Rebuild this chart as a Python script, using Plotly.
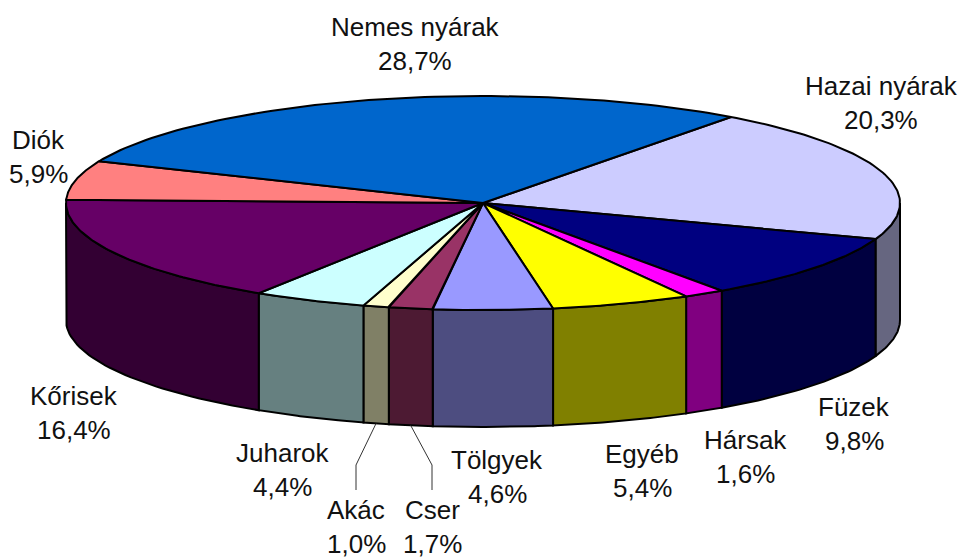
import numpy as np
import plotly.graph_objects as go

names = ["Hazai nyárak", "Füzek", "Hársak", "Egyéb", "Tölgyek", "Cser", "Akác", "Juharok", "Kőrisek", "Diók", "Nemes nyárak"]
shares = [20.3, 9.8, 1.6, 5.4, 4.6, 1.7, 1.0, 4.4, 16.4, 5.9, 28.7]
top_colors = ["#CCCCFF", "#000080", "#FF00FF", "#FFFF00", "#9999FF", "#993366", "#FFFFCC", "#CCFFFF", "#660066", "#FF8080", "#0066CC"]
side_colors = ["#666680", "#000040", "#800080", "#808000", "#4D4D80", "#4D1A33", "#808066", "#668080", "#330033", "#804040", "#003366"]
label_x = [881, 854, 745, 642, 497, 432, 356, 282, 74, 38, 415]
label_y = [86, 407, 440, 454, 460, 510, 510, 453, 396, 140, 27]

CX, CY, RX, RY, DEPTH = 483, 203, 417, 107, 117
START = 36.5
LINE = dict(color="black", width=2)
FONT = dict(family="Liberation Sans, Arial, sans-serif", size=26, color="#111111")
LINE_GAP = 34


def px(a):
    r = np.radians(a)
    return CX + RX * np.sin(r), CY - RY * np.cos(r)


fig = go.Figure()
edges = START + np.concatenate([[0], np.cumsum(shares)]) / sum(shares) * 360

# side walls: only the part of each slice that faces the viewer
for i in range(len(shares)):
    a0, a1 = max(edges[i], 90), min(edges[i + 1], 270)
    if a1 <= a0:
        continue
    x, y = px(np.linspace(a0, a1, 40))
    fig.add_trace(go.Scatter(
        x=np.concatenate([x, x[::-1], x[:1]]),
        y=np.concatenate([y, y[::-1] + DEPTH, y[:1]]),
        mode="lines", fill="toself", fillcolor=side_colors[i], line=LINE,
        hoverinfo="skip", showlegend=False))

# top faces
for i in range(len(shares)):
    x, y = px(np.linspace(edges[i], edges[i + 1], 80))
    fig.add_trace(go.Scatter(
        x=np.concatenate([[CX], x, [CX]]),
        y=np.concatenate([[CY], y, [CY]]),
        mode="lines", fill="toself", fillcolor=top_colors[i], line=LINE,
        hoverinfo="text", text=names[i], showlegend=False))

# leader lines for the two narrow slices
for name in ("Akác", "Cser"):
    idx = names.index(name)
    lx = label_x[idx]
    ex, ey = px((edges[idx] + edges[idx + 1]) / 2)
    fig.add_trace(go.Scatter(
        x=[ex, lx, lx], y=[ey + DEPTH, 465, 490], mode="lines",
        line=dict(color="#333333", width=1), hoverinfo="skip", showlegend=False))

for n, s, lx, ly in zip(names, shares, label_x, label_y):
    pct = f"{s:.1f}%".replace(".", ",")
    for text, yy in ((n, ly), (pct, ly + LINE_GAP)):
        fig.add_annotation(x=lx, y=yy, text=text, showarrow=False, font=FONT,
                           xanchor="center", yanchor="middle")

fig.update_layout(
    width=962, height=560, margin=dict(l=0, r=0, t=0, b=0),
    paper_bgcolor="white", plot_bgcolor="white",
    xaxis=dict(range=[0, 962], visible=False, fixedrange=True),
    yaxis=dict(range=[560, 0], visible=False, fixedrange=True),
)
fig.write_html("out.html", config=dict(displayModeBar=False),
               post_script="document.body.style.margin='0';document.body.style.overflow='hidden';")
